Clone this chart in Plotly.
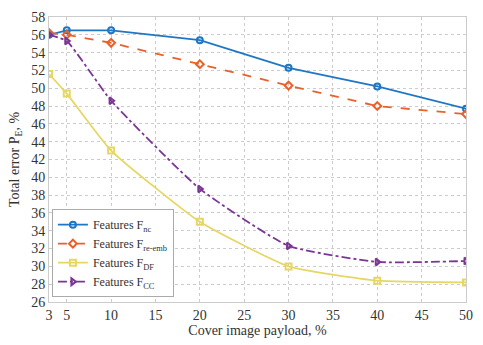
import plotly.graph_objects as go

payload = [3, 5, 10, 20, 30, 40, 50]
err_nc = [56.0, 56.5, 56.5, 55.4, 52.3, 50.2, 47.7]
err_re_emb = [56.2, 56.0, 55.1, 52.7, 50.3, 48.0, 47.1]
err_df = [51.6, 49.4, 43.0, 35.0, 30.0, 28.4, 28.2]
err_cc = [56.0, 55.3, 48.6, 38.7, 32.3, 30.5, 30.6]

x_ticks = [3, 5, 10, 15, 20, 25, 30, 35, 40, 45, 50]
y_ticks = list(range(26, 59, 2))

series = [
    ("Features F<sub>nc</sub>", err_nc, "#1f77c4", "solid", "circle-open", "linear"),
    ("Features F<sub>re-emb</sub>", err_re_emb, "#e8612c", "dash", "diamond-open", "linear"),
    ("Features F<sub>DF</sub>", err_df, "#e6d765", "solid", "square-open", "spline"),
    ("Features F<sub>CC</sub>", err_cc, "#7b3594", "dashdot", "triangle-right-open", "spline"),
]

fig = go.Figure()
for name, ys, color, dash, symbol, shape in series:
    fig.add_trace(go.Scatter(
        x=payload, y=ys, name=name, mode="lines+markers",
        line=dict(color=color, width=1.8, dash=dash, shape=shape, smoothing=0.45),
        marker=dict(symbol=symbol, size=6, color=color, line=dict(width=2, color=color)),
    ))

font = dict(family="Liberation Serif, Times New Roman, serif", size=14, color="#333333")
axis_common = dict(
    showgrid=True, gridcolor="#cccccc", griddash="dot", gridwidth=1,
    showline=True, linecolor="#cccccc", mirror=True, linewidth=1,
    zeroline=False, ticks="", tickfont=font,
)
fig.update_layout(
    width=483, height=345,
    margin=dict(l=49, r=11, t=10, b=40),
    paper_bgcolor="white", plot_bgcolor="white",
    font=font,
    showlegend=True,
    legend=dict(
        x=0.007, y=0.017, xanchor="left", yanchor="bottom",
        bgcolor="white", bordercolor="#aaaaaa", borderwidth=1,
        font=dict(family="Liberation Serif, serif", size=12, color="#333333"),
        tracegroupgap=0, itemwidth=30,
    ),
    xaxis=dict(axis_common, range=[3, 50], tickvals=x_ticks,
               title=dict(text="Cover image payload, %", font=font, standoff=2)),
    yaxis=dict(axis_common, range=[26, 58], tickvals=y_ticks,
               title=dict(text="Total error P<sub>E</sub>, %", font=font, standoff=8)),
)

fig.write_html("out.html")
